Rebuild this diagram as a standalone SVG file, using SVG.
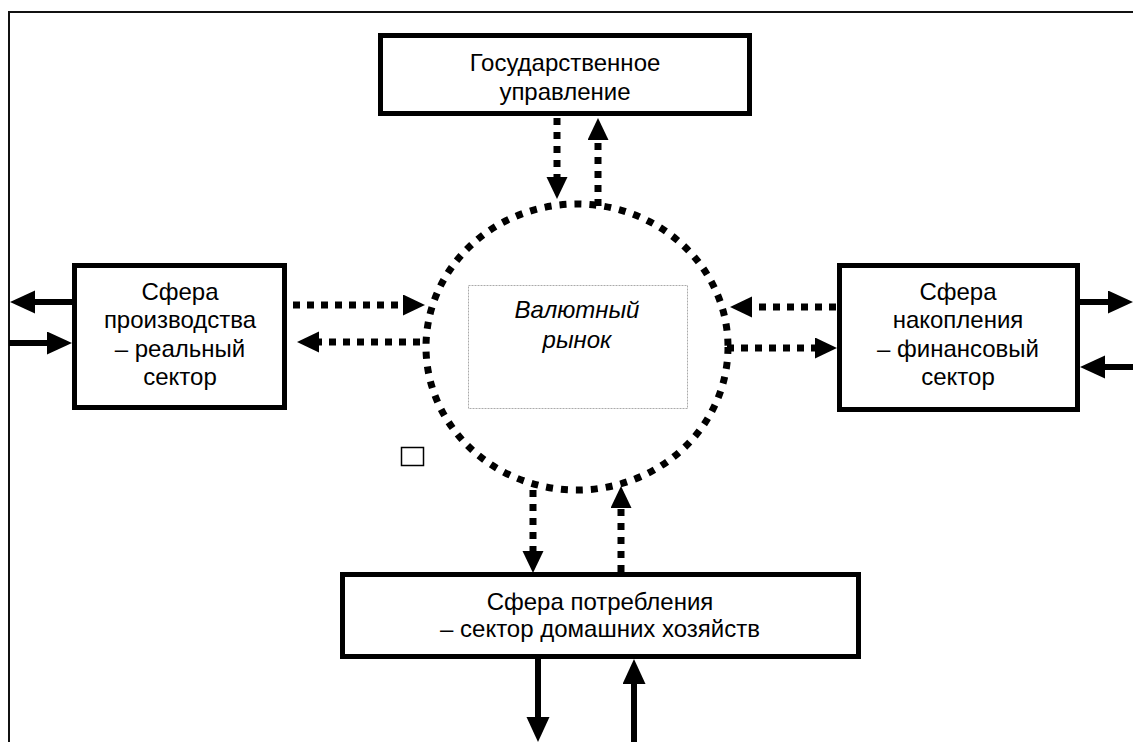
<svg xmlns="http://www.w3.org/2000/svg" width="1133" height="742" viewBox="0 0 1133 742">
<style>
.box{fill:#fff;stroke:#000;stroke-width:5}
.t{font-family:"Liberation Sans",Arial,sans-serif;font-size:24px;fill:#000;text-anchor:middle}
.ti{font-style:italic}
.sol{stroke:#000;stroke-width:6;fill:none}
.dot{stroke:#000;stroke-width:7;fill:none;stroke-dasharray:7 7}
</style>
<defs>
<marker id="sh" markerUnits="userSpaceOnUse" markerWidth="26" markerHeight="24" refX="0" refY="11.5" orient="auto">
<path d="M0,0 L25,11.5 L0,23 z" fill="#000"/>
</marker>
<marker id="dh" markerUnits="userSpaceOnUse" markerWidth="24" markerHeight="22" refX="0" refY="10.5" orient="auto">
<path d="M0,0 L22,10.5 L0,21 z" fill="#000"/>
</marker>
</defs>
<rect width="1133" height="742" fill="#fff"/>
<g id="frame">
<path d="M9,742 L9,12 L1133,12" fill="none" stroke="#111" stroke-width="2"/>
</g>
<g id="market">
<ellipse cx="577" cy="347" rx="151" ry="143" fill="none" stroke="#000" stroke-width="7" stroke-dasharray="7 8"/>
<rect x="468.5" y="285.5" width="219" height="123" fill="none" stroke="#aaa" stroke-width="1" stroke-dasharray="2 1"/>
<text class="t ti" x="577" y="318">Валютный</text>
<text class="t ti" x="577" y="348">рынок</text>
</g>
<g id="gov">
<rect class="box" x="380.5" y="35.5" width="369" height="78"/>
<text class="t" x="565" y="71">Государственное</text>
<text class="t" x="565" y="100">управление</text>
</g>
<g id="production">
<rect class="box" x="74.5" y="265.5" width="210" height="142"/>
<text class="t" x="180" y="300">Сфера</text>
<text class="t" x="180" y="328">производства</text>
<text class="t" x="180" y="357">– реальный</text>
<text class="t" x="180" y="385">сектор</text>
</g>
<g id="accumulation">
<rect class="box" x="839.5" y="265.5" width="238" height="144"/>
<text class="t" x="958" y="300">Сфера</text>
<text class="t" x="958" y="328">накопления</text>
<text class="t" x="958" y="357">– финансовый</text>
<text class="t" x="958" y="385">сектор</text>
</g>
<g id="consumption">
<rect class="box" x="342.5" y="574.5" width="516" height="82"/>
<text class="t" x="600" y="610">Сфера потребления</text>
<text class="t" x="600" y="637">– сектор домашних хозяйств</text>
</g>
<rect id="marker-square" x="401.5" y="447.5" width="22" height="18" fill="none" stroke="#000" stroke-width="1.5"/>
<g id="connectors">
<line class="dot" x1="557" y1="118" x2="557" y2="177" marker-end="url(#dh)"/>
<line class="dot" x1="598" y1="206" x2="598" y2="140" marker-end="url(#dh)"/>
<line class="dot" x1="293" y1="305" x2="403" y2="305" marker-end="url(#dh)"/>
<line class="dot" x1="420" y1="342" x2="319" y2="342" marker-end="url(#dh)"/>
<line class="dot" x1="836" y1="307" x2="752" y2="307" marker-end="url(#dh)"/>
<line class="dot" x1="727" y1="348" x2="815" y2="348" marker-end="url(#dh)"/>
<line class="dot" x1="533" y1="490" x2="533" y2="551" marker-end="url(#dh)"/>
<line class="dot" x1="621" y1="572" x2="621" y2="508" marker-end="url(#dh)"/>
<line class="sol" x1="72" y1="302" x2="35" y2="302" marker-end="url(#sh)"/>
<line class="sol" x1="9" y1="343" x2="47" y2="343" marker-end="url(#sh)"/>
<line class="sol" x1="1080" y1="302" x2="1108" y2="302" marker-end="url(#sh)"/>
<line class="sol" x1="1133" y1="367" x2="1105" y2="367" marker-end="url(#sh)"/>
<line class="sol" x1="538" y1="659" x2="538" y2="717" marker-end="url(#sh)"/>
<line class="sol" x1="634" y1="742" x2="634" y2="684" marker-end="url(#sh)"/>
</g>
</svg>
